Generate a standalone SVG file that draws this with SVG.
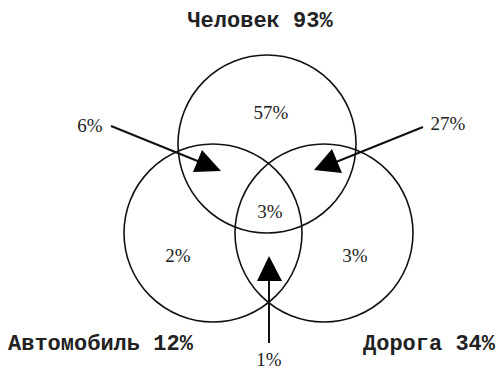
<svg xmlns="http://www.w3.org/2000/svg" width="497" height="371" viewBox="0 0 497 371">
<style>
.c{fill:none;stroke:#111;stroke-width:1.6}
.ln{stroke:#111;stroke-width:2;fill:none}
.hd{fill:#000}
.t{font-family:"Liberation Serif","Times New Roman",serif;font-size:19px;fill:#222}
.m{font-family:"Liberation Mono","Courier New",monospace;font-size:22px;font-weight:bold;fill:#222}
</style>
<rect width="497" height="371" fill="#fff"/>
<g id="chelovek">
<circle class="c" cx="267" cy="144" r="89"/>
<text class="m" x="260" y="27" text-anchor="middle">Человек 93%</text>
<text class="t" x="271" y="119" text-anchor="middle">57%</text>
</g>
<g id="avtomobil">
<circle class="c" cx="213" cy="233" r="89"/>
<text class="m" x="8" y="350">Автомобиль 12%</text>
<text class="t" x="178" y="262" text-anchor="middle">2%</text>
</g>
<g id="doroga">
<circle class="c" cx="324" cy="233" r="89"/>
<text class="m" x="363" y="350">Дорога 34%</text>
<text class="t" x="355" y="262" text-anchor="middle">3%</text>
</g>
<g id="center">
<text class="t" x="270" y="218" text-anchor="middle">3%</text>
</g>
<g id="connectors">
<line class="ln" x1="111" y1="126" x2="200" y2="162"/>
<polygon class="hd" points="221,171 202,150 193,172"/>
<text class="t" x="90" y="132" text-anchor="middle">6%</text>
<line class="ln" x1="423" y1="127" x2="336" y2="162"/>
<polygon class="hd" points="314,170 332,149 342,173"/>
<text class="t" x="448" y="130" text-anchor="middle">27%</text>
<line class="ln" x1="269" y1="343" x2="269" y2="280"/>
<polygon class="hd" points="269,256 257,281 282,281"/>
<text class="t" x="269" y="366" text-anchor="middle">1%</text>
</g>
</svg>
